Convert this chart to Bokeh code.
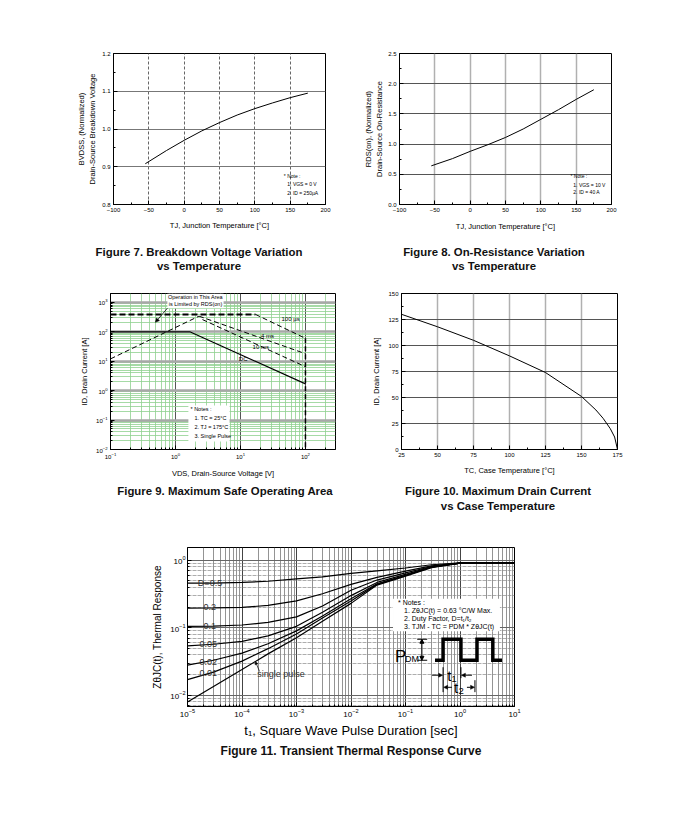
from bokeh.plotting import figure
from bokeh.layouts import column, row
from bokeh.models import (Spacer, Div, FixedTicker, Label, BoxAnnotation, Arrow, NormalHead, Range1d,
                          PrintfTickFormatter)
from bokeh.embed import file_html
from bokeh.resources import INLINE

FONT = "Liberation Sans"

# ---------------- data ----------------
# Figure 7: breakdown voltage vs junction temperature
bv_temp = [-55, -25, 0, 25, 50, 75, 100, 125, 150, 175]
bv_norm = [0.908, 0.943, 0.970, 0.995, 1.017, 1.037, 1.054, 1.069, 1.083, 1.095]

# Figure 8: on-resistance vs junction temperature
rds_temp = [-55, -25, 0, 25, 50, 75, 100, 125, 150, 175]
rds_norm = [0.64, 0.76, 0.88, 0.99, 1.11, 1.25, 1.41, 1.57, 1.74, 1.90]

# Figure 9: safe operating area
soa_rds_v = [0.1, 2.3]
soa_rds_i = [12, 340]
soa_pkg_v = [0.1, 17]
soa_pkg_i = [390, 390]
soa_100us_v = [17, 100]
soa_100us_i = [390, 60]
soa_4ms_v = [2.3, 100]
soa_4ms_i = [340, 18]
soa_10ms_v = [2.6, 100]
soa_10ms_i = [260, 6.5]
soa_dc_v = [0.1, 1.66, 100]
soa_dc_i = [100, 100, 1.7]
soa_vmax_v = [100, 100]
soa_vmax_i = [60, 0.01]

# Figure 10: drain current vs case temperature
id_tc = [25, 50, 75, 100, 125, 150, 160, 165, 170, 173, 175]
id_amp = [130, 118, 105, 90, 74, 51, 38, 30, 20, 12, 0]

# Figure 11: transient thermal response
zth_t = [1e-5, 3e-5, 1e-4, 3e-4, 1e-3, 3e-3, 1e-2, 3e-2, 1e-1, 3e-1, 1, 3, 10]
zth_d05 = [0.46, 0.46, 0.47, 0.49, 0.53, 0.57, 0.64, 0.70, 0.77, 0.86, 0.915, 0.92, 0.92]
zth_d02 = [0.195, 0.197, 0.20, 0.215, 0.25, 0.32, 0.44, 0.56, 0.69, 0.83, 0.91, 0.92, 0.92]
zth_d01 = [0.105, 0.106, 0.11, 0.12, 0.145, 0.21, 0.36, 0.51, 0.65, 0.81, 0.91, 0.92, 0.92]
zth_d005 = [0.054, 0.057, 0.063, 0.076, 0.105, 0.17, 0.30, 0.47, 0.62, 0.80, 0.91, 0.92, 0.92]
zth_d002 = [0.028, 0.033, 0.042, 0.058, 0.090, 0.15, 0.27, 0.45, 0.60, 0.79, 0.91, 0.92, 0.92]
zth_d001 = [0.017, 0.022, 0.032, 0.049, 0.081, 0.14, 0.25, 0.44, 0.59, 0.79, 0.91, 0.92, 0.92]
zth_single = [0.0079, 0.0135, 0.024, 0.041, 0.071, 0.125, 0.23, 0.43, 0.58, 0.78, 0.91, 0.92, 0.92]

# pulse diagram (decoration in fig 11)
pulse_x = [0.348, 0.489, 0.489, 1.04, 1.04, 2.05, 2.05, 4.0, 4.0, 5.9]
pulse_y = [0.033, 0.033, 0.0675, 0.0675, 0.033, 0.033, 0.0675, 0.0675, 0.033, 0.033]


# ---------------- helpers ----------------
def style(p, tick_px, lab_px, xstand, ystand, tick_stand=3):
    p.outline_line_color = "black"
    p.outline_line_width = 1
    p.background_fill_color = "white"
    p.border_fill_color = "white"
    for ax in p.axis:
        ax.axis_line_color = "black"
        ax.major_tick_line_color = "black"
        ax.minor_tick_line_color = "black"
        ax.major_tick_in = 4
        ax.major_tick_out = 0
        ax.minor_tick_in = 2
        ax.minor_tick_out = 0
        ax.major_label_text_font = FONT
        ax.major_label_text_font_size = tick_px
        ax.major_label_text_color = "black"
        ax.major_label_standoff = tick_stand
        ax.axis_label_text_font = FONT
        ax.axis_label_text_font_size = lab_px
        ax.axis_label_text_font_style = "normal"
        ax.axis_label_text_color = "black"
    p.xaxis.axis_label_standoff = xstand
    p.yaxis.axis_label_standoff = ystand


def lab(p, x, y, text, size, align="left", color="black"):
    p.add_layout(Label(x=x, y=y, text=text, text_font=FONT, text_font_size=size,
                       text_align=align, text_baseline="middle", text_color=color))


def caption(lines, width, height, pad, lh, fs):
    html = ('<div style="font-family:\'Liberation Sans\',Arial,sans-serif;font-weight:bold;'
            f'font-size:{fs}px;line-height:{lh}px;text-align:center;white-space:nowrap;'
            f'padding-top:{pad}px;width:{width}px;color:#111;">' + "<br>".join(lines) + '</div>')
    return Div(text=html, width=width, height=height, margin=(0, 0, 0, 0))


def arrow(p, x0, y0, x1, y1, size=4, width=0.8):
    p.add_layout(Arrow(end=NormalHead(size=size, fill_color="black", line_color="black", line_width=0.5),
                       x_start=x0, y_start=y0, x_end=x1, y_end=y1,
                       line_color="black", line_width=width))


# ---------------- Figure 7 ----------------
p7 = figure(width=275, height=196, x_range=Range1d(-100, 200), y_range=Range1d(0.8, 1.2),
            output_backend="svg", toolbar_location=None,
            min_border_left=53, min_border_right=10, min_border_top=13, min_border_bottom=30)
p7.xaxis.ticker = FixedTicker(ticks=[-100, -50, 0, 50, 100, 150, 200],
                              minor_ticks=[-75, -25, 25, 75, 125, 175])
p7.yaxis.ticker = FixedTicker(ticks=[0.8, 0.9, 1.0, 1.1, 1.2], minor_ticks=[0.85, 0.95, 1.05, 1.15])
p7.yaxis.formatter = PrintfTickFormatter(format="%.1f")
style(p7, "6px", "7.5px", 6, 2)
p7.xaxis.axis_label = "TJ, Junction Temperature [°C]"
p7.yaxis.axis_label = "BVDSS, (Normalized)\nDrain-Source Breakdown Voltage"
p7.xgrid.grid_line_color = "#666666"
p7.xgrid.grid_line_dash = "3 2"
p7.ygrid.grid_line_color = "#777777"
p7.line(bv_temp, bv_norm, line_color="black", line_width=1)
lab(p7, 141, 0.876, "* Note :", "5px")
lab(p7, 146, 0.853, "1. VGS = 0 V", "5px")
lab(p7, 146, 0.831, "2. ID = 250µA", "5px")

# ---------------- Figure 8 ----------------
p8 = figure(width=280, height=196, x_range=Range1d(-100, 200), y_range=Range1d(0, 2.5),
            output_backend="svg", toolbar_location=None,
            min_border_left=54, min_border_right=14, min_border_top=13, min_border_bottom=32)
p8.xaxis.ticker = FixedTicker(ticks=[-100, -50, 0, 50, 100, 150, 200],
                              minor_ticks=[-75, -25, 25, 75, 125, 175])
p8.yaxis.ticker = FixedTicker(ticks=[0, 0.5, 1.0, 1.5, 2.0, 2.5], minor_ticks=[0.25, 0.75, 1.25, 1.75, 2.25])
p8.yaxis.formatter = PrintfTickFormatter(format="%.1f")
style(p8, "6px", "7.5px", 7, 1)
p8.xaxis.axis_label = "TJ, Junction Temperature [°C]"
p8.yaxis.axis_label = "RDS(on), (Normalized)\nDrain-Source On-Resistance"
p8.xgrid.grid_line_color = "#b0b0b0"
p8.xgrid.grid_line_width = 1.5
p8.ygrid.grid_line_color = "#555555"
p8.line(rds_temp, rds_norm, line_color="black", line_width=1)
lab(p8, 142, 0.464, "* Note :", "5px")
lab(p8, 146, 0.331, "1. VGS = 10 V", "5px")
lab(p8, 146, 0.199, "2. ID = 40 A", "5px")

# ---------------- Figure 9 ----------------
p9 = figure(width=285, height=201, x_axis_type="log", y_axis_type="log",
            x_range=Range1d(0.1, 290), y_range=Range1d(0.01, 2000),
            output_backend="svg", toolbar_location=None,
            min_border_left=50, min_border_right=10, min_border_top=13, min_border_bottom=30)
p9.xaxis.ticker = FixedTicker(ticks=[0.1, 1, 10, 100],
                              minor_ticks=[m * 10.0 ** e for e in range(-1, 3) for m in range(2, 10)])
p9.yaxis.ticker = FixedTicker(ticks=[0.01, 0.1, 1, 10, 100, 1000],
                              minor_ticks=[m * 10.0 ** e for e in range(-2, 4) for m in range(2, 10)])
style(p9, "6px", "7.5px", 7, 4)
p9.xaxis.axis_label = "VDS, Drain-Source Voltage [V]"
p9.yaxis.axis_label = "ID, Drain Current [A]"
p9.ygrid.grid_line_color = "#a8a8a8"
p9.ygrid.grid_line_width = 2.5
p9.ygrid.minor_grid_line_color = "#8fd08f"
p9.ygrid.minor_grid_line_width = 0.8
p9.xgrid.grid_line_color = "#555555"
p9.xgrid.grid_line_width = 1
p9.xgrid.minor_grid_line_color = "#8fd08f"
p9.xgrid.minor_grid_line_width = 0.8

p9.line(soa_rds_v, soa_rds_i, line_color="black", line_width=1, line_dash="5 3")
p9.line(soa_pkg_v, soa_pkg_i, line_color="black", line_width=2, line_dash="6 3")
p9.line(soa_100us_v, soa_100us_i, line_color="black", line_width=1, line_dash="5 3")
p9.line(soa_4ms_v, soa_4ms_i, line_color="black", line_width=1, line_dash="5 3")
p9.line(soa_10ms_v, soa_10ms_i, line_color="black", line_width=1, line_dash="5 3")
p9.line(soa_dc_v, soa_dc_i, line_color="black", line_width=1.2)
p9.line(soa_vmax_v, soa_vmax_i, line_color="black", line_width=1.5, line_dash="5 3")

p9.add_layout(BoxAnnotation(left=0.75, right=5.5, bottom=630, fill_color="white", fill_alpha=1,
                            line_alpha=0))
lab(p9, 2.03, 1480, "Operation in This Area", "5.5px", align="center")
lab(p9, 2.03, 850, "is Limited by RDS(on)", "5.5px", align="center")
arrow(p9, 0.75, 630, 0.49, 209)
p9.add_layout(BoxAnnotation(left=1.58, right=6.8, bottom=0.0187, top=0.31, fill_color="white",
                            fill_alpha=1, line_alpha=0))
lab(p9, 1.7, 0.24, "* Notes :", "5.5px")
lab(p9, 1.96, 0.12, "1. TC = 25°C", "5.5px")
lab(p9, 1.96, 0.06, "2. TJ = 175°C", "5.5px")
lab(p9, 1.96, 0.0297, "3. Single Pulse", "5.5px")
lab(p9, 59, 270, "100 µs", "6px", align="center")
lab(p9, 26, 70, "4 ms", "6px", align="center")
lab(p9, 20.5, 30, "10 ms", "6px", align="center")
lab(p9, 11, 12, "DC", "6px", align="center")

# ---------------- Figure 10 ----------------
p10 = figure(width=282, height=201, x_range=Range1d(25, 175), y_range=Range1d(0, 150),
             output_backend="svg", toolbar_location=None,
             min_border_left=56, min_border_right=10, min_border_top=12, min_border_bottom=32)
p10.xaxis.ticker = FixedTicker(ticks=[25, 50, 75, 100, 125, 150, 175],
                               minor_ticks=[37.5, 62.5, 87.5, 112.5, 137.5, 162.5])
p10.yaxis.ticker = FixedTicker(ticks=[0, 25, 50, 75, 100, 125, 150],
                               minor_ticks=[12.5, 37.5, 62.5, 87.5, 112.5, 137.5])
style(p10, "6px", "7.5px", 6, 4)
p10.xaxis.axis_label = "TC, Case Temperature [°C]"
p10.yaxis.axis_label = "ID, Drain Current [A]"
p10.xgrid.grid_line_color = "#b0b0b0"
p10.xgrid.grid_line_width = 1.5
p10.ygrid.grid_line_color = "#555555"
p10.line(id_tc, id_amp, line_color="black", line_width=1)

# ---------------- Figure 11 ----------------
p11 = figure(width=400, height=210, x_axis_type="log", y_axis_type="log",
             x_range=Range1d(1e-5, 10), y_range=Range1d(0.0068, 1.55),
             output_backend="svg", toolbar_location=None,
             min_border_left=57, min_border_right=16, min_border_top=17, min_border_bottom=33)
p11.xaxis.ticker = FixedTicker(ticks=[1e-5, 1e-4, 1e-3, 1e-2, 1e-1, 1, 10],
                               minor_ticks=[m * 10.0 ** e for e in range(-5, 1) for m in range(2, 10)])
p11.yaxis.ticker = FixedTicker(ticks=[0.01, 0.1, 1],
                               minor_ticks=[m * 10.0 ** e for e in range(-3, 1) for m in range(2, 10)])
style(p11, "8px", "13px", 3, 4, tick_stand=2)
p11.yaxis.axis_label_text_font_size = "10px"
p11.xaxis.axis_label = "t₁, Square Wave Pulse Duration [sec]"
p11.yaxis.axis_label = "ZθJC(t), Thermal Response"
p11.xgrid.grid_line_color = "#444444"
p11.xgrid.grid_line_width = 1
p11.xgrid.minor_grid_line_color = "#666666"
p11.xgrid.minor_grid_line_width = 0.7
p11.ygrid.grid_line_color = "#666666"
p11.ygrid.grid_line_width = 1
p11.ygrid.minor_grid_line_color = "#8a8a8a"
p11.ygrid.minor_grid_line_width = 0.7
p11.ygrid.minor_grid_line_dash = "4 1"

for series in (zth_d05, zth_d02, zth_d01, zth_d005, zth_d002, zth_d001, zth_single):
    p11.line(zth_t, series, line_color="black", line_width=1.2)

lab(p11, 1.55e-5, 0.456, "D=0.5", "9px", color="#333333")
lab(p11, 1.96e-5, 0.20, "0.2", "9px", color="#333333")
lab(p11, 1.96e-5, 0.105, "0.1", "9px", color="#333333")
lab(p11, 1.66e-5, 0.057, "0.05", "9px", color="#333333")
lab(p11, 1.66e-5, 0.031, "0.02", "9px", color="#333333")
lab(p11, 1.66e-5, 0.021, "0.01", "9px", color="#333333")
lab(p11, 1.9e-4, 0.0205, "single pulse", "9px", color="#333333")
arrow(p11, 2.1e-4, 0.0225, 1.76e-4, 0.0316, size=3, width=0.7)

# notes box
p11.add_layout(BoxAnnotation(left=0.059, right=5.4, bottom=0.089, top=0.27, fill_color="white",
                             fill_alpha=1, line_alpha=0))
lab(p11, 0.073, 0.239, "* Notes :", "7px")
lab(p11, 0.094, 0.182, "1. ZθJC(t) = 0.63 °C/W Max.", "7px")
lab(p11, 0.094, 0.138, "2. Duty Factor, D=t₁/t₂", "7px")
lab(p11, 0.094, 0.105, "3. TJM - TC = PDM * ZθJC(t)", "7px")

# pulse diagram
p11.line(pulse_x, pulse_y, line_color="black", line_width=3.5, line_join="miter")
p11.add_layout(Arrow(start=NormalHead(size=4, fill_color="black", line_color="black"),
                     end=NormalHead(size=4, fill_color="black", line_color="black"),
                     x_start=0.2, y_start=0.0675, x_end=0.2, y_end=0.033,
                     line_color="black", line_width=1))
p11.segment(x0=[0.164, 0.164], y0=[0.0675, 0.033], x1=[0.25, 0.25], y1=[0.0675, 0.033],
            line_color="black", line_width=1)
lab(p11, 0.0645, 0.0378, "P", "17px")
lab(p11, 0.098, 0.034, "DM", "9px")
p11.segment(x0=[0.489, 1.04, 1.88], y0=[0.026, 0.026, 0.0167], x1=[0.489, 1.04, 1.88],
            y1=[0.0111, 0.0179, 0.0111], line_color="black", line_width=1)
arrow(p11, 0.307, 0.0198, 0.48, 0.0198, size=4, width=1)
arrow(p11, 1.66, 0.0198, 1.06, 0.0198, size=4, width=1)
arrow(p11, 0.71, 0.0131, 0.50, 0.0131, size=4, width=1)
arrow(p11, 1.34, 0.0131, 1.85, 0.0131, size=4, width=1)
lab(p11, 0.71, 0.0198, "t₁", "15px", align="center")
lab(p11, 0.96, 0.0131, "t₂", "15px", align="center")

# ---------------- layout ----------------
row1 = row(Spacer(width=60, height=1), p7, Spacer(width=10, height=1), p8)
cap1 = row(Spacer(width=60, height=1),
           caption(["Figure 7. Breakdown Voltage Variation", "vs Temperature"], 278, 40, 9, 14, 11.4),
           caption(["Figure 8. On-Resistance Variation", "vs Temperature"], 312, 40, 9, 14, 11.4))
row2 = row(Spacer(width=60, height=1), p9, p10)
cap2 = row(Spacer(width=60, height=1),
           caption(["Figure 9. Maximum Safe Operating Area"], 330, 35, 3, 15, 11.4),
           caption(["Figure 10. Maximum Drain Current", "vs Case Temperature"], 216, 35, 3, 15, 11.4))
row3 = row(Spacer(width=130, height=1), p11)
cap3 = row(Spacer(width=130, height=1),
           caption(["Figure 11. Transient Thermal Response Curve"], 442, 25, 4, 14, 12))

layout = column(Spacer(height=40, width=1), row1, cap1, Spacer(height=4, width=1), row2, cap2,
                Spacer(height=14, width=1), row3, cap3)

open("out.html", "w").write(file_html(layout, INLINE))
